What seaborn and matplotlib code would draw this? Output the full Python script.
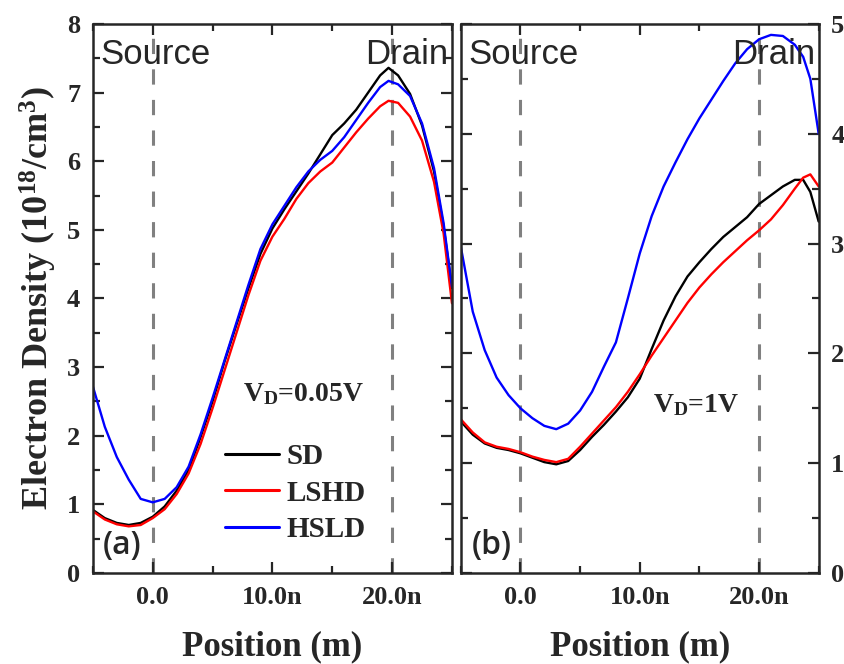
import pandas as pd
import numpy as np
import matplotlib
matplotlib.use("Agg")
import matplotlib.pyplot as plt
import matplotlib.ticker as mtick
import seaborn as sns

# positions in nm
x_a = [-5, -4, -3, -2, -1, 0, 1, 2, 3, 4, 5, 6, 7, 8, 9, 10, 11, 12, 13, 14, 15,
       16, 17, 18, 19, 19.7, 20.5, 21.5, 22.5, 23.5, 24.3, 25]
sd_a = [0.92, 0.80, 0.73, 0.70, 0.73, 0.82, 0.97, 1.20, 1.50, 1.98, 2.50, 3.08, 3.62,
        4.15, 4.65, 5.02, 5.30, 5.56, 5.82, 6.10, 6.38, 6.55, 6.75, 7.00, 7.25, 7.36,
        7.25, 6.98, 6.52, 5.85, 5.05, 4.15]
lshd_a = [0.90, 0.78, 0.71, 0.68, 0.70, 0.80, 0.93, 1.15, 1.45, 1.88, 2.40, 2.95, 3.50,
          4.05, 4.55, 4.90, 5.16, 5.45, 5.68, 5.85, 5.98, 6.20, 6.42, 6.62, 6.80, 6.88,
          6.85, 6.65, 6.30, 5.70, 4.95, 3.93]
hsld_a = [2.72, 2.13, 1.69, 1.36, 1.08, 1.03, 1.08, 1.25, 1.55, 2.02, 2.55, 3.10, 3.65,
          4.20, 4.72, 5.08, 5.35, 5.62, 5.85, 6.02, 6.15, 6.35, 6.60, 6.85, 7.08, 7.17,
          7.12, 6.95, 6.55, 5.90, 5.10, 4.17]

x_b = [-5, -4, -3, -2, -1, 0, 1, 2, 3, 4, 5, 6, 7, 8, 9, 10, 11, 12, 13, 14, 15,
       16, 17, 18, 19, 20, 21, 22, 23, 23.7, 24.3, 25]
sd_b = [1.38, 1.26, 1.18, 1.14, 1.12, 1.09, 1.05, 1.01, 0.99, 1.02, 1.12, 1.24, 1.35,
        1.47, 1.60, 1.77, 2.04, 2.30, 2.52, 2.70, 2.83, 2.95, 3.06, 3.15, 3.24, 3.36,
        3.44, 3.52, 3.58, 3.58, 3.47, 3.20]
lshd_b = [1.40, 1.28, 1.19, 1.15, 1.13, 1.10, 1.06, 1.03, 1.01, 1.04, 1.15, 1.27, 1.39,
          1.51, 1.65, 1.81, 1.98, 2.14, 2.30, 2.46, 2.60, 2.72, 2.83, 2.93, 3.03, 3.12,
          3.22, 3.35, 3.50, 3.60, 3.63, 3.52]
hsld_b = [2.97, 2.38, 2.03, 1.78, 1.62, 1.50, 1.41, 1.34, 1.31, 1.36, 1.48, 1.65, 1.88,
          2.10, 2.50, 2.91, 3.25, 3.52, 3.74, 3.95, 4.14, 4.31, 4.48, 4.64, 4.77, 4.86,
          4.90, 4.89, 4.81, 4.70, 4.50, 4.00]

labels = ["SD", "LSHD", "HSLD"]
colors = {"SD": "black", "LSHD": "red", "HSLD": "blue"}


def make_df(x, series):
    parts = []
    for name, vals in zip(labels, series):
        parts.append(pd.DataFrame({"pos": x, "dens": vals, "dev": name}))
    return pd.concat(parts, ignore_index=True)


df_a = make_df(x_a, [sd_a, lshd_a, hsld_a])
df_b = make_df(x_b, [sd_b, lshd_b, hsld_b])

sns.set_style("ticks")
plt.rcParams['font.family'] = ['Liberation Serif', 'DejaVu Serif']
plt.rcParams['font.weight'] = 'bold'
plt.rcParams['mathtext.fontset'] = 'custom'
plt.rcParams['mathtext.rm'] = 'Liberation Serif:bold'
plt.rcParams['mathtext.it'] = 'Liberation Serif:bold'
plt.rcParams['mathtext.bf'] = 'Liberation Serif:bold'

fig = plt.figure(figsize=(8.44, 6.64), dpi=100)
ax1 = fig.add_axes([0.110, 0.137, 0.4255, 0.827])
ax2 = fig.add_axes([0.546, 0.137, 0.424, 0.827])

sns.lineplot(data=df_a, x="pos", y="dens", hue="dev", palette=colors, ax=ax1,
             linewidth=1.7, legend=True)
sns.lineplot(data=df_b, x="pos", y="dens", hue="dev", palette=colors, ax=ax2,
             linewidth=1.7, legend=False)


def xfmt(v, pos):
    if abs(v) < 1e-9:
        return "0.0"
    return f"{v:.1f}n"


for ax, ymax in [(ax1, 8), (ax2, 5)]:
    ax.set_xlim(-5, 25)
    ax.set_ylim(0, ymax)
    for xv in [0, 20]:
        ax.axvline(xv, color='#808080', linestyle=(0, (5, 5)), linewidth=2.2, zorder=0)
    ax.xaxis.set_major_locator(mtick.MultipleLocator(10))
    ax.xaxis.set_minor_locator(mtick.MultipleLocator(5))
    ax.yaxis.set_major_locator(mtick.MultipleLocator(1))
    ax.yaxis.set_minor_locator(mtick.MultipleLocator(0.5))
    ax.xaxis.set_major_formatter(mtick.FuncFormatter(xfmt))
    ax.tick_params(which='both', direction='in', top=True, right=True, left=True,
                   width=1.6, labelsize=19, pad=9)
    ax.tick_params(which='major', length=8)
    ax.tick_params(which='minor', length=5)
    for s in ax.spines.values():
        s.set_linewidth(1.8)
        s.set_visible(True)
    ax.set_xlabel("Position (m)", fontsize=25, fontweight='bold', labelpad=16)
    ax.set_ylabel("")
    ax.text(0.02, 0.945, "Source", transform=ax.transAxes, family='Liberation Sans',
            fontweight='normal', fontsize=25, va='center', ha='left')
    ax.text(0.99, 0.945, "Drain", transform=ax.transAxes, family='Liberation Sans',
            fontweight='normal', fontsize=25, va='center', ha='right')

ax2.tick_params(axis='y', labelleft=False, labelright=True)
ax1.set_ylabel(r"Electron Density (10$^{18}$/cm$^3$)", fontsize=26, fontweight='bold',
               labelpad=6)

ax1.text(0.028, 0.05, "(a)", transform=ax1.transAxes, family='Open Sans',
         fontweight='semibold', fontsize=23, va='center', ha='left')
ax2.text(0.03, 0.05, "(b)", transform=ax2.transAxes, family='Open Sans',
         fontweight='semibold', fontsize=23, va='center', ha='left')
ax1.text(0.418, 0.325, r"V$_\mathrm{D}$=0.05V", transform=ax1.transAxes,
         fontsize=20, fontweight='bold', va='center', ha='left')
ax2.text(0.536, 0.306, r"V$_\mathrm{D}$=1V", transform=ax2.transAxes,
         fontsize=20, fontweight='bold', va='center', ha='left')

leg = ax1.legend(loc='upper left', bbox_to_anchor=(0.335, 0.258), frameon=False,
                 fontsize=21, handlelength=1.85, handletextpad=0.25, labelspacing=0.33,
                 borderaxespad=0)
for line in leg.get_lines():
    line.set_linewidth(2.2)
for t in leg.get_texts():
    t.set_fontweight('bold')

fig.savefig("out.png", dpi=100)
